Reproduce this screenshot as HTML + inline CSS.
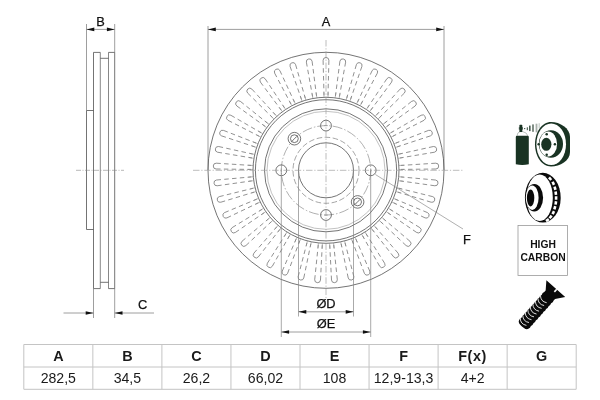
<!DOCTYPE html>
<html><head><meta charset="utf-8"><title>Brake disc dimensions</title>
<style>
html,body{margin:0;padding:0;background:#fff;}
body{width:600px;height:400px;position:relative;overflow:hidden;font-family:"Liberation Sans",Arial,sans-serif;}
svg{display:block;will-change:transform;}
</style></head><body>
<svg width="600" height="400" viewBox="0 0 600 400" style="position:absolute;left:0;top:0">
<g fill="none" stroke="#505050" stroke-width="0.8">
<path d="M86.5 110.5V229.5M114.7 52.4V288.6M93.5 52.4V288.6" />
<path d="M86.5 24V110.5M114.7 24V52.4M114.7 288.6V318M93.5 288.6V318" stroke="#858585" />
<path d="M100.3 52.4V288.6M108.5 52.4V288.6" stroke="#6a6a6a" />
<path d="M93.5 52.4H100.3M100.3 58.3H108.5M108.5 52.4H114.7M93.5 288.6H100.3M100.3 282.3H108.5M108.5 288.6H114.7M86.5 110.5H93.5M86.5 229.5H93.5" />
<path d="M76 170.3H124" stroke="#888" stroke-width="0.6" stroke-dasharray="5 1.5 1 1.5" />
<path d="M86.5 29.4H114.7" stroke="#858585" />
<path d="M63.5 313H93.5M114.7 313H154" stroke="#858585" />
<path d="M208 26V170M444 26V170M208 29.4H444" stroke="#858585" />
<circle cx="326.0" cy="170.3" r="118" />
<circle cx="326.0" cy="170.3" r="73" />
<circle cx="326.0" cy="170.3" r="70.6" />
<circle cx="326.0" cy="170.3" r="61.5" />
<circle cx="326.0" cy="170.3" r="27.5" />
<circle cx="326.0" cy="170.3" r="59" stroke="#999" stroke-width="0.6" />
<circle cx="326.0" cy="170.3" r="33" stroke-dasharray="5.6 2.5" stroke-width="0.7" stroke="#808080" />
<circle cx="326.0" cy="170.3" r="44.7" stroke-dasharray="10 2 1.5 2" stroke-width="0.65" stroke="#858585" />
<circle cx="370.70" cy="170.30" r="5.4" />
<path d="M370.70 168.40V172.20" stroke="#8a8a8a" stroke-width="0.6" />
<circle cx="326.00" cy="125.60" r="5.4" />
<path d="M324.10 125.60H327.90" stroke="#8a8a8a" stroke-width="0.6" />
<circle cx="281.30" cy="170.30" r="5.4" />
<path d="M281.30 168.40V172.20" stroke="#8a8a8a" stroke-width="0.6" />
<circle cx="326.00" cy="215.00" r="5.4" />
<path d="M324.10 215.00H327.90" stroke="#8a8a8a" stroke-width="0.6" />
<circle cx="294.39" cy="138.69" r="6.3" />
<circle cx="294.39" cy="138.69" r="3.9" />
<path d="M292.19 140.89L296.59 136.49" stroke-width="0.5" />
<circle cx="357.61" cy="201.91" r="6.3" />
<circle cx="357.61" cy="201.91" r="3.9" />
<path d="M355.41 204.11L359.81 199.71" stroke-width="0.5" />
<path d="M193 170.3H463" stroke="#999" stroke-width="0.65" stroke-dasharray="6.5 1.8 1.2 1.8" />
<path d="M326.0 40V300" stroke="#999" stroke-width="0.65" stroke-dasharray="6.5 1.8 1.2 1.8" />
<path d="M323.10 60.40L324.00 95.30M328.90 60.40L328.00 95.30M306.36 62.13L312.57 96.48M312.09 61.25L316.53 95.87M290.08 66.40L301.46 99.40M295.61 64.65L305.28 98.19M274.64 73.10L290.93 103.98M279.83 70.52L294.51 102.20M260.40 82.08L281.22 110.11M265.14 78.74L284.49 107.80M247.70 93.13L272.55 117.65M251.88 89.10L275.43 114.87M236.84 105.98L265.14 126.42M240.36 101.37L267.57 123.24M228.07 120.35L259.16 136.23M230.84 115.25L261.07 132.71M221.59 135.88L254.74 146.83M223.55 130.42L256.09 143.07M217.56 152.22L251.99 157.98M218.66 146.53L252.75 154.06M216.07 168.99L250.98 169.43M216.29 163.19L251.13 165.43M217.16 185.78L251.72 180.89M216.49 180.02L251.27 176.91M220.80 202.22L254.21 192.10M219.26 196.63L253.15 188.25M226.90 217.90L258.38 202.81M224.53 212.61L256.74 199.16M235.33 232.47L264.13 212.75M232.18 227.60L261.96 209.39M245.88 245.58L271.34 221.69M242.02 241.25L268.68 218.71M258.31 256.93L279.82 229.43M253.84 253.24L276.74 226.89M272.33 266.25L289.39 235.79M267.35 263.28L285.95 233.75M287.61 273.32L299.82 240.61M282.23 271.15L296.11 239.12M303.78 277.97L310.86 243.78M298.14 276.65L306.96 242.87M320.48 280.10L322.25 245.23M314.70 279.66L318.26 244.93M337.30 279.66L333.74 244.93M331.52 280.10L329.75 245.23M353.86 276.65L345.04 242.87M348.22 277.97L341.14 243.78M369.77 271.15L355.89 239.12M364.39 273.32L352.18 240.61M384.65 263.28L366.05 233.75M379.67 266.25L362.61 235.79M398.16 253.24L375.26 226.89M393.69 256.93L372.18 229.43M409.98 241.25L383.32 218.71M406.12 245.58L380.66 221.69M419.82 227.60L390.04 209.39M416.67 232.47L387.87 212.75M427.47 212.61L395.26 199.16M425.10 217.90L393.62 202.81M432.74 196.63L398.85 188.25M431.20 202.22L397.79 192.10M435.51 180.02L400.73 176.91M434.84 185.78L400.28 180.89M435.71 163.19L400.87 165.43M435.93 168.99L401.02 169.43M433.34 146.53L399.25 154.06M434.44 152.22L400.01 157.98M428.45 130.42L395.91 143.07M430.41 135.88L397.26 146.83M421.16 115.25L390.93 132.71M423.93 120.35L392.84 136.23M411.64 101.37L384.43 123.24M415.16 105.98L386.86 126.42M400.12 89.10L376.57 114.87M404.30 93.13L379.45 117.65M386.86 78.74L367.51 107.80M391.60 82.08L370.78 110.11M372.17 70.52L357.49 102.20M377.36 73.10L361.07 103.98M356.39 64.65L346.72 98.19M361.92 66.40L350.54 99.40M339.91 61.25L335.47 95.87M345.64 62.13L339.43 96.48" stroke-dasharray="4.5 3.3" stroke-width="0.8" stroke="#757575" />
<path d="M323.10 60.40A2.9 2.9 0 0 1 328.90 60.40M306.36 62.13A2.9 2.9 0 0 1 312.09 61.25M290.08 66.40A2.9 2.9 0 0 1 295.61 64.65M274.64 73.10A2.9 2.9 0 0 1 279.83 70.52M260.40 82.08A2.9 2.9 0 0 1 265.14 78.74M247.70 93.13A2.9 2.9 0 0 1 251.88 89.10M236.84 105.98A2.9 2.9 0 0 1 240.36 101.37M228.07 120.35A2.9 2.9 0 0 1 230.84 115.25M221.59 135.88A2.9 2.9 0 0 1 223.55 130.42M217.56 152.22A2.9 2.9 0 0 1 218.66 146.53M216.07 168.99A2.9 2.9 0 0 1 216.29 163.19M217.16 185.78A2.9 2.9 0 0 1 216.49 180.02M220.80 202.22A2.9 2.9 0 0 1 219.26 196.63M226.90 217.90A2.9 2.9 0 0 1 224.53 212.61M235.33 232.47A2.9 2.9 0 0 1 232.18 227.60M245.88 245.58A2.9 2.9 0 0 1 242.02 241.25M258.31 256.93A2.9 2.9 0 0 1 253.84 253.24M272.33 266.25A2.9 2.9 0 0 1 267.35 263.28M287.61 273.32A2.9 2.9 0 0 1 282.23 271.15M303.78 277.97A2.9 2.9 0 0 1 298.14 276.65M320.48 280.10A2.9 2.9 0 0 1 314.70 279.66M337.30 279.66A2.9 2.9 0 0 1 331.52 280.10M353.86 276.65A2.9 2.9 0 0 1 348.22 277.97M369.77 271.15A2.9 2.9 0 0 1 364.39 273.32M384.65 263.28A2.9 2.9 0 0 1 379.67 266.25M398.16 253.24A2.9 2.9 0 0 1 393.69 256.93M409.98 241.25A2.9 2.9 0 0 1 406.12 245.58M419.82 227.60A2.9 2.9 0 0 1 416.67 232.47M427.47 212.61A2.9 2.9 0 0 1 425.10 217.90M432.74 196.63A2.9 2.9 0 0 1 431.20 202.22M435.51 180.02A2.9 2.9 0 0 1 434.84 185.78M435.71 163.19A2.9 2.9 0 0 1 435.93 168.99M433.34 146.53A2.9 2.9 0 0 1 434.44 152.22M428.45 130.42A2.9 2.9 0 0 1 430.41 135.88M421.16 115.25A2.9 2.9 0 0 1 423.93 120.35M411.64 101.37A2.9 2.9 0 0 1 415.16 105.98M400.12 89.10A2.9 2.9 0 0 1 404.30 93.13M386.86 78.74A2.9 2.9 0 0 1 391.60 82.08M372.17 70.52A2.9 2.9 0 0 1 377.36 73.10M356.39 64.65A2.9 2.9 0 0 1 361.92 66.40M339.91 61.25A2.9 2.9 0 0 1 345.64 62.13" stroke-width="0.75" stroke="#6a6a6a" />
<path d="M324.00 97.30L323.90 92.30M328.00 97.30L328.10 92.30M312.88 98.46L312.02 93.53M316.83 97.85L316.17 92.89M302.07 101.31L300.46 96.57M305.88 100.10L304.47 95.30M291.82 105.77L289.51 101.33M295.40 103.99L293.27 99.47M282.37 111.74L279.41 107.71M285.64 109.44L282.84 105.29M273.94 119.09L270.40 115.56M276.82 116.32L273.43 112.64M266.73 127.64L262.69 124.68M269.16 124.45L265.24 121.34M260.91 137.18L256.47 134.88M262.82 133.67L258.48 131.19M256.62 147.51L251.88 145.91M257.97 143.74L253.30 141.96M253.95 158.36L249.03 157.51M254.72 154.44L249.83 153.39M252.98 169.50L247.98 169.41M253.13 165.51L248.14 165.21M253.71 180.66L248.76 181.33M253.25 176.69L248.27 177.16M256.14 191.57L251.34 192.99M255.08 187.72L250.23 188.94M260.21 201.99L255.68 204.12M258.57 198.34L253.97 200.29M265.81 211.66L261.67 214.46M263.64 208.30L259.39 210.94M272.83 220.36L269.17 223.76M270.17 217.38L266.37 220.63M281.10 227.89L277.99 231.81M278.01 225.35L274.75 229.14M290.41 234.07L287.95 238.42M286.98 232.03L284.34 236.27M300.57 238.76L298.79 243.43M296.86 237.26L294.89 241.86M311.31 241.84L310.27 246.73M307.42 240.92L306.18 245.77M322.41 243.24L322.12 248.23M318.42 242.93L317.94 247.91M333.58 242.93L334.06 247.91M329.59 243.24L329.88 248.23M344.58 240.92L345.82 245.77M340.69 241.84L341.73 246.73M355.14 237.26L357.11 241.86M351.43 238.76L353.21 243.43M365.02 232.03L367.66 236.27M361.59 234.07L364.05 238.42M373.99 225.35L377.25 229.14M370.90 227.89L374.01 231.81M381.83 217.38L385.63 220.63M379.17 220.36L382.83 223.76M388.36 208.30L392.61 210.94M386.19 211.66L390.33 214.46M393.43 198.34L398.03 200.29M391.79 201.99L396.32 204.12M396.92 187.72L401.77 188.94M395.86 191.57L400.66 192.99M398.75 176.69L403.73 177.16M398.29 180.66L403.24 181.33M398.87 165.51L403.86 165.21M399.02 169.50L404.02 169.41M397.28 154.44L402.17 153.39M398.05 158.36L402.97 157.51M394.03 143.74L398.70 141.96M395.38 147.51L400.12 145.91M389.18 133.67L393.52 131.19M391.09 137.18L395.53 134.88M382.84 124.45L386.76 121.34M385.27 127.64L389.31 124.68M375.18 116.32L378.57 112.64M378.06 119.09L381.60 115.56M366.36 109.44L369.16 105.29M369.63 111.74L372.59 107.71M356.60 103.99L358.73 99.47M360.18 105.77L362.49 101.33M346.12 100.10L347.53 95.30M349.93 101.31L351.54 96.57M335.17 97.85L335.83 92.89M339.12 98.46L339.98 93.53" stroke-width="0.6" stroke="#888" />
<path d="M298.5 170.3V316.5M353.5 170.3V316.5M281.3 170.3V337M370.7 170.3V337" stroke-width="0.7" stroke="#858585" />
<path d="M298.5 311.8H353.5M281.3 332H370.7" stroke="#858585" />
<path d="M375.4 174.5L463 229" stroke-width="0.65" stroke="#858585" />
</g>
<path d="M86.5 29.4L94.3 27.549999999999997L94.3 31.25ZM114.7 29.4L106.9 27.549999999999997L106.9 31.25ZM93.5 313L85.7 311.15L85.7 314.85ZM114.7 313L122.5 311.15L122.5 314.85ZM208 29.4L215.8 27.549999999999997L215.8 31.25ZM444 29.4L436.2 27.549999999999997L436.2 31.25ZM298.5 311.8L306.3 309.95L306.3 313.65000000000003ZM353.5 311.8L345.7 309.95L345.7 313.65000000000003ZM281.3 332L289.1 330.15L289.1 333.85ZM370.7 332L362.9 330.15L362.9 333.85Z" fill="#111" />
<g font-family="'Liberation Sans', Arial, sans-serif" font-size="12.8" fill="#111" stroke="#111" stroke-width="0.25" text-anchor="middle">
<text x="100.4" y="25.8">B</text>
<text x="326" y="25.9">A</text>
<text x="142.5" y="308.5">C</text>
<text x="467" y="244">F</text>
<text x="326" y="307.5">ØD</text>
<text x="326" y="327.5">ØE</text>
</g>
<g fill="#193323">
<path d="M515.8 164.2V137Q515.8 135.8 517 135.8H527.6Q528.8 135.8 528.8 137V164.2Q522.3 165.6 515.8 164.2Z" />
<path d="M517 135.8Q517.4 132.2 520 131.6H522.6Q527 132.4 527.8 135.8" fill="none" stroke="#193323" stroke-width="0.5" opacity="0.6" />
<rect x="519.4" y="124.8" width="2.9" height="7.2" rx="0.6" />
<rect x="518.8" y="127.2" width="4.2" height="2.4" opacity="0.7" />
<circle cx="524.7" cy="128.6" r="0.65" />
<rect x="526.8" y="127.3" width="1" height="2.9" opacity="0.9" />
<rect x="529" y="125.6" width="1.6" height="5.5" opacity="0.8" />
<rect x="532" y="124.4" width="2" height="7.4" opacity="0.55" />
<rect x="535.6" y="123.7" width="1.8" height="8.6" opacity="0.38" />
<rect x="538.6" y="123.2" width="1.2" height="5" opacity="0.25" />
<path d="M551 121.9C560 121.9 570 128 570 137V152C570 161 560 166.4 551 166.4C542 166.4 535 156.5 535 144.2C535 131.8 542 121.9 551 121.9Z" />
<ellipse cx="551.2" cy="144.2" rx="14.8" ry="20.8" fill="#fff" />
<ellipse cx="550.9" cy="144" rx="12.1" ry="13.7" />
<ellipse cx="548.2" cy="144" rx="8.9" ry="12.5" fill="#fff" />
<ellipse cx="546.3" cy="144.3" rx="5.1" ry="6.5" />
<circle cx="546.7" cy="134.2" r="1.25" />
<circle cx="546.7" cy="154.7" r="1.25" />
<circle cx="538.7" cy="144.3" r="1.25" />
<circle cx="554.9" cy="144.3" r="1.25" />
</g>
<g fill="#0a0a0a">
<ellipse cx="542.8" cy="197.7" rx="17.9" ry="24.9" />
<ellipse cx="539.7" cy="197.7" rx="13.1" ry="23.3" fill="#fff" />
<rect x="548.80" y="177.00" width="2.6" height="3.4" fill="#fff" transform="rotate(-40.1 550.10 178.70)" />
<rect x="552.00" y="181.60" width="2.6" height="3.4" fill="#fff" transform="rotate(-24.9 553.30 183.30)" />
<rect x="553.70" y="186.50" width="2.6" height="3.4" fill="#fff" transform="rotate(-14.9 555.00 188.20)" />
<rect x="554.50" y="191.50" width="2.6" height="3.4" fill="#fff" transform="rotate(-6.8 555.80 193.20)" />
<rect x="554.80" y="196.30" width="2.6" height="3.4" fill="#fff" transform="rotate(0.4 556.10 198.00)" />
<rect x="554.50" y="201.20" width="2.6" height="3.4" fill="#fff" transform="rotate(7.8 555.80 202.90)" />
<rect x="553.50" y="206.10" width="2.6" height="3.4" fill="#fff" transform="rotate(16.1 554.80 207.80)" />
<rect x="552.00" y="210.90" width="2.6" height="3.4" fill="#fff" transform="rotate(25.6 553.30 212.60)" />
<rect x="549.30" y="215.20" width="2.6" height="3.4" fill="#fff" transform="rotate(38.8 550.60 216.90)" />
<rect x="546.10" y="218.40" width="2.6" height="3.4" fill="#fff" transform="rotate(55.5 547.40 220.10)" />
<ellipse cx="534.3" cy="197.7" rx="8.8" ry="13.7" />
<ellipse cx="532.2" cy="197.7" rx="6.4" ry="12.2" fill="#fff" />
<ellipse cx="530.6" cy="198" rx="3.7" ry="8.5" />
</g>
<rect x="518" y="225.5" width="49.5" height="50" fill="#fff" stroke="#9a9a9a" stroke-width="0.8" />
<g font-family="'Liberation Sans', Arial, sans-serif" font-size="10.3" font-weight="bold" fill="#111" text-anchor="middle">
<text x="543" y="247.6">HIGH</text><text x="543" y="261">CARBON</text></g>
<g transform="translate(555.8 288.6) rotate(41.7)">
<path d="M-12.6 0H12.6L6.3 8.2V10.30q0.9 1.900 0 3.800q0.9 1.900 0 3.800q0.9 1.900 0 3.800q0.9 1.900 0 3.800q0.9 1.900 0 3.800q0.9 1.900 0 3.800q0.9 1.900 0 3.800q0.9 1.900 0 3.800q0.9 1.900 0 3.800q0.9 1.900 0 3.800Q5.6 50.90 0 50.90 Q-5.6 50.90 -6.3 48.30q-0.9 -1.900 0 -3.800q-0.9 -1.900 0 -3.800q-0.9 -1.900 0 -3.800q-0.9 -1.900 0 -3.800q-0.9 -1.900 0 -3.800q-0.9 -1.900 0 -3.800q-0.9 -1.900 0 -3.800q-0.9 -1.900 0 -3.800q-0.9 -1.900 0 -3.800q-0.9 -1.900 0 -3.800V8.2Z" fill="#0a0a0a" />
<path d="M0.3 -0.2V3.4H1.9V-0.2Z" fill="#fff" />
<path d="M-6.7 15.60Q-2.6 19.80 2.2 16.80M-6.7 19.40Q-2.6 23.60 2.2 20.60M-6.7 23.20Q-2.6 27.40 2.2 24.40M-6.7 27.00Q-2.6 31.20 2.2 28.20M-6.7 30.80Q-2.6 35.00 2.2 32.00M-6.7 34.60Q-2.6 38.80 2.2 35.80M-6.7 38.40Q-2.6 42.60 2.2 39.60M-6.7 42.20Q-2.6 46.40 2.2 43.40M-6.7 46.00Q-2.6 50.20 2.2 47.20" stroke="#fff" stroke-width="0.8" fill="none" stroke-linecap="round" />
</g>
<path d="M23.80 344.5V389.3M92.85 344.5V389.3M161.90 344.5V389.3M230.95 344.5V389.3M300.00 344.5V389.3M369.05 344.5V389.3M438.10 344.5V389.3M507.15 344.5V389.3M576.20 344.5V389.3M23.8 344.5H576.20M23.8 367H576.20M23.8 389.3H576.20" stroke="#c4c4c4" stroke-width="1" fill="none" />
<g font-family="'Liberation Sans', Arial, sans-serif" fill="#1a1a1a" text-anchor="middle">
<text x="58.33" y="360.8" font-size="14.4" font-weight="bold">A</text>
<text x="58.33" y="382.7" font-size="14.1">282,5</text>
<text x="127.37" y="360.8" font-size="14.4" font-weight="bold">B</text>
<text x="127.37" y="382.7" font-size="14.1">34,5</text>
<text x="196.43" y="360.8" font-size="14.4" font-weight="bold">C</text>
<text x="196.43" y="382.7" font-size="14.1">26,2</text>
<text x="265.47" y="360.8" font-size="14.4" font-weight="bold">D</text>
<text x="265.47" y="382.7" font-size="14.1">66,02</text>
<text x="334.52" y="360.8" font-size="14.4" font-weight="bold">E</text>
<text x="334.52" y="382.7" font-size="14.1">108</text>
<text x="403.57" y="360.8" font-size="14.4" font-weight="bold">F</text>
<text x="403.57" y="382.7" font-size="14.1">12,9-13,3</text>
<text x="472.62" y="360.8" font-size="14.4" font-weight="bold" letter-spacing="0.6">F(x)</text>
<text x="472.62" y="382.7" font-size="14.1">4+2</text>
<text x="541.67" y="360.8" font-size="14.4" font-weight="bold">G</text>
</g>
</svg>
</body></html>
